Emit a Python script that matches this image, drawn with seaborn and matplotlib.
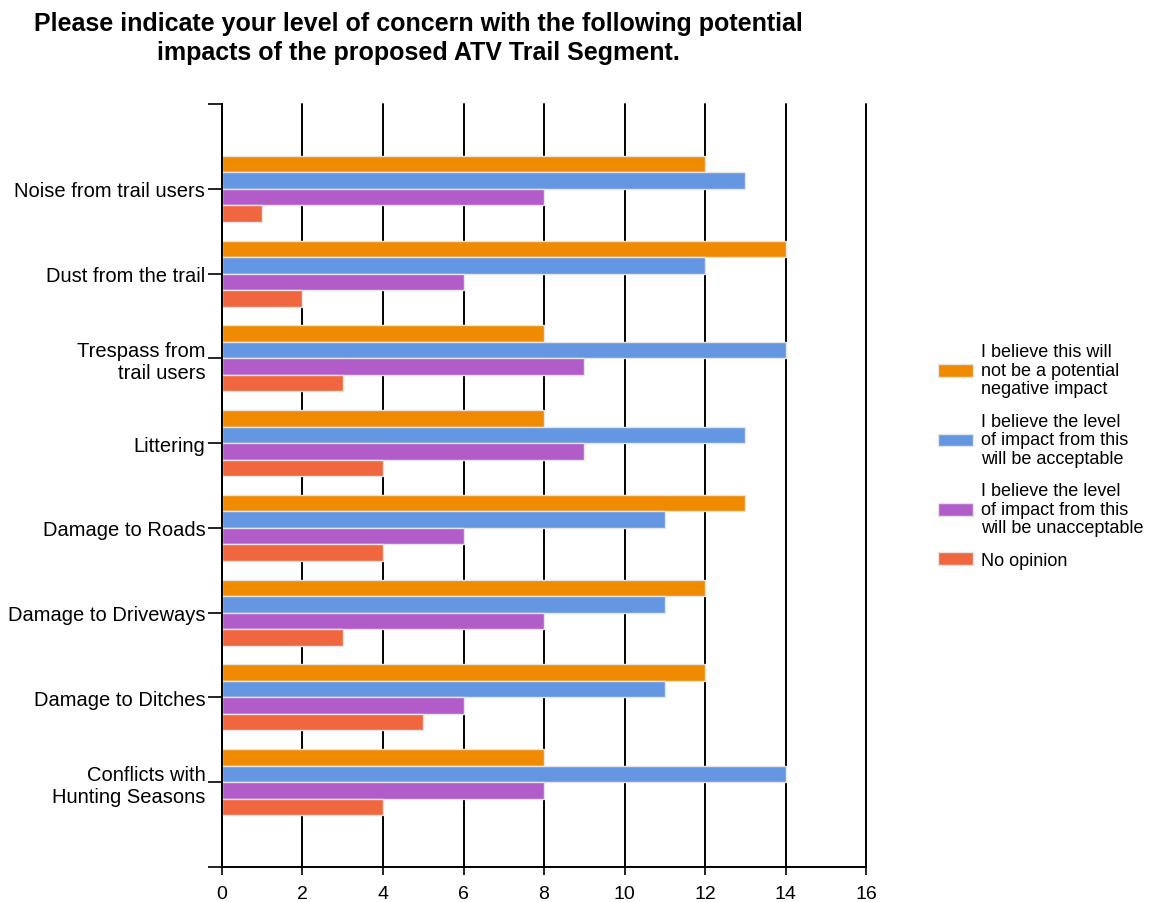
import matplotlib
matplotlib.use("Agg")
import matplotlib.pyplot as plt
import pandas as pd
import seaborn as sns

categories = ["Noise from trail users", "Dust from the trail", "Trespass from\ntrail users",
              "Littering", "Damage to Roads", "Damage to Driveways", "Damage to Ditches",
              "Conflicts with\nHunting Seasons"]
series = ["I believe this will\nnot be a potential\nnegative impact",
          "I believe the level\nof impact from this\nwill be acceptable",
          "I believe the level\nof impact from this\nwill be unacceptable",
          "No opinion"]
not_negative = [12, 14, 8, 8, 13, 12, 12, 8]
acceptable = [13, 12, 14, 13, 11, 11, 11, 14]
unacceptable = [8, 6, 9, 9, 6, 8, 6, 8]
no_opinion = [1, 2, 3, 4, 4, 3, 5, 4]
colors = ["#F08A00", "#6496E2", "#B25CC9", "#F0673F"]

rows = []
for s, vals in zip(series, [not_negative, acceptable, unacceptable, no_opinion]):
    for c, v in zip(categories, vals):
        rows.append([c, s, v])
df = pd.DataFrame(rows, columns=["category", "series", "value"])

sns.set_style("white")
plt.rcParams["font.family"] = ["Liberation Sans", "DejaVu Sans"]
plt.rcParams["text.color"] = "black"
plt.rcParams["xtick.color"] = "black"
plt.rcParams["ytick.color"] = "black"

fig = plt.figure(figsize=(11.55, 9.03), dpi=100)
ax = fig.add_axes([0.1922, 0.0388, 0.5576, 0.8449])
sns.barplot(data=df, x="value", y="category", hue="series", palette=colors,
            order=categories, hue_order=series, width=0.78, orient="h",
            edgecolor="#e4e4e4", linewidth=1, saturation=1, ax=ax)

ax.set_xlim(0, 16)
ax.set_ylim(8, -1)
ax.set_xticks(range(0, 17, 2))
ax.set_yticks(range(-1, 9))
ax.set_yticklabels([""] + categories + [""], fontsize=14.5)
ax.tick_params(axis="x", bottom=True, labelsize=14, length=6, width=1.2,
               color="black", labelcolor="black", pad=7)
ax.tick_params(axis="y", left=True, length=10, width=1.2, color="black",
               labelcolor="black", pad=2)
ax.xaxis.grid(True, color="black", linewidth=1.4)
for gl in ax.get_xgridlines():
    gl.set_clip_on(False)
ax.set_axisbelow(True)
ax.set_xlabel("")
ax.set_ylabel("")
for side in ["top", "right"]:
    ax.spines[side].set_visible(False)
for side in ["left", "bottom"]:
    ax.spines[side].set_color("black")
    ax.spines[side].set_linewidth(1.4)

handles, labels = ax.get_legend_handles_labels()
ax.legend_.remove()
leg = fig.legend(handles, labels, loc="center left", bbox_to_anchor=(0.806, 0.494),
                 frameon=False, fontsize=13, handlelength=1.95, handleheight=0.7,
                 labelspacing=0.85, handletextpad=0.45, borderaxespad=0)
for t in leg.get_texts():
    t.set_linespacing(1.12)
    t.set_color("black")

fig.text(0.362, 0.987, "Please indicate your level of concern with the following potential\n"
         "impacts of the proposed ATV Trail Segment.", ha="center", va="top",
         fontsize=18, fontweight="bold", linespacing=1.3, color="black")

fig.savefig("out.png", dpi=100)
